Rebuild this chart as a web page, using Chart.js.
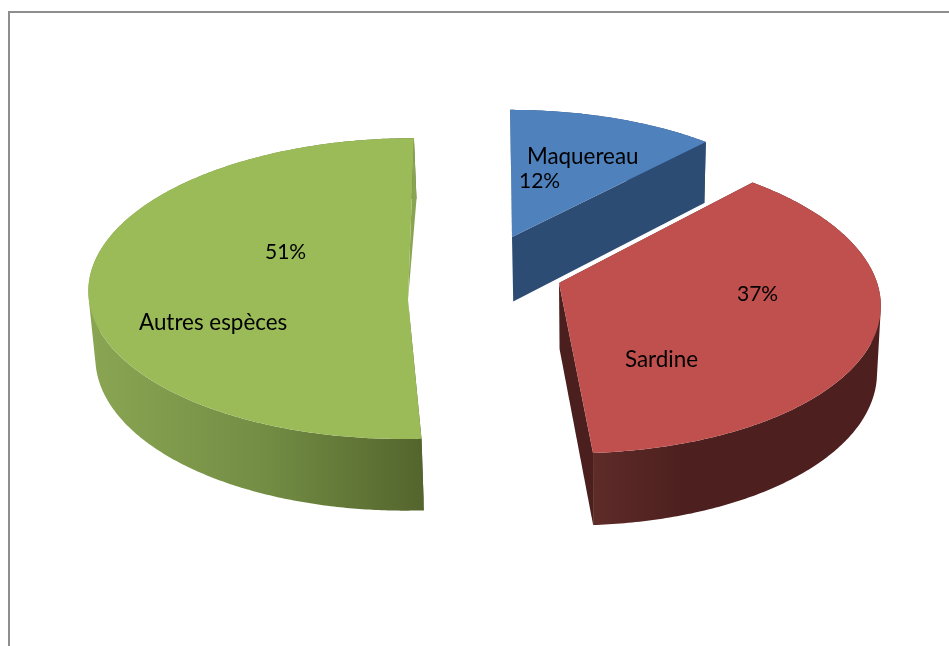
<!DOCTYPE html>
<html lang="fr">
<head>
<meta charset="utf-8">
<title>Espèces</title>
<script src="https://cdn.jsdelivr.net/npm/chart.js@4"></script>
<style>
  html, body { margin: 0; padding: 0; background: #fff; overflow: hidden; }
  #cadre {
    position: absolute; left: 8px; top: 11px; width: 941px; height: 635px;
    border-left: 2px solid #8e8e8e; border-top: 2px solid #8e8e8e; box-sizing: border-box;
  }
  #graphique { position: absolute; left: 0; top: 0; }
</style>
</head>
<body>
<div id="cadre"></div>
<canvas id="graphique" width="949" height="646"></canvas>
<script>
/* ===================== DONNÉES ===================== */
const especes = ["Maquereau", "Sardine", "Autres espèces"];
const pourcentages = [12, 37, 51];

/* ===================== STYLE ===================== */
const couleursDessus = ["#4f81bd", "#c0504d", "#9bbb59"];
const couleursCote = ["#2d4c73", "#4d201f", "#8aa552"];
const couleursDebut = ["#2d4c73", "#4d201f", "#54652d"];
const couleursFin = ["#2d4c73", "#4a1f1e", "#8aa552"];

// vue 3D de chaque part : sommet, échelle, perspective, inclinaison
const vues = [
  { cx: 512, cy: 237, sx: 0.947, sy: 0.433, p: -0.1, s: 2 },
  { cx: 559, cy: 283, sx: 0.985, sy: 0.464, p: -0.12, s: 10 },
  { cx: 408, cy: 300, sx: 0.988, sy: 0.463, p: 0.076, s: -5.5 },
];

// position des textes (nom puis pourcentage)
const positionsNoms = [[527, 164], [625, 367], [139, 330]];
const positionsPct = [[519, 188], [737, 301], [265, 259]];

/* ===================== PROJECTION ===================== */
function projeter(vue, rayon, angle) {
  const u = Math.cos(angle);
  const v = Math.sin(angle);
  const w = 1 + vue.p * v;
  return {
    x: vue.cx + (rayon * vue.sx * u + vue.s * v) / w,
    y: vue.cy + (rayon * vue.sy * v) / w,
  };
}

// face du bas : légère fuite vers le point de perspective
function enBas(pt) {
  return {
    x: pt.x + (600 - pt.x) * 0.0137,
    y: pt.y + 61 + (pt.y - 143) * 0.036,
  };
}

function tracer(ctx, points, couleur) {
  ctx.beginPath();
  points.forEach((pt, i) => (i ? ctx.lineTo(pt.x, pt.y) : ctx.moveTo(pt.x, pt.y)));
  ctx.closePath();
  ctx.fillStyle = couleur;
  ctx.fill();
}

// côté courbe : tous les morceaux dans un seul chemin, même sens, pas de joints visibles
function tracerCoteCourbe(ctx, bord, couleur) {
  ctx.beginPath();
  for (let k = 0; k < bord.length - 1; k++) {
    let quad = [bord[k], bord[k + 1], enBas(bord[k + 1]), enBas(bord[k])];
    let aire = 0;
    quad.forEach((pt, j) => {
      const suivant = quad[(j + 1) % 4];
      aire += pt.x * suivant.y - suivant.x * pt.y;
    });
    if (aire < 0) quad = quad.reverse();
    quad.forEach((pt, j) => (j ? ctx.lineTo(pt.x, pt.y) : ctx.moveTo(pt.x, pt.y)));
    ctx.closePath();
  }
  ctx.fillStyle = couleur;
  ctx.fill("nonzero");
}

function degradeCote(ctx, i) {
  if (i === 1) {
    const g = ctx.createLinearGradient(595, 0, 880, 0);
    g.addColorStop(0, "#5e2b28");
    g.addColorStop(0.3, "#4d201f");
    g.addColorStop(1, "#4d201f");
    return g;
  }
  if (i === 2) {
    const g = ctx.createLinearGradient(90, 0, 423, 0);
    g.addColorStop(0, "#8aa552");
    g.addColorStop(0.5, "#748f45");
    g.addColorStop(1, "#54652d");
    return g;
  }
  return couleursCote[i];
}

/* ===================== PLUGIN PART 3D ===================== */
const pieDe3D = {
  id: "pieDe3D",
  beforeDatasetDraw(chart) {
    const ctx = chart.ctx;
    chart.getDatasetMeta(0).data.forEach((arc, i) => {
      const vue = vues[i];
      const rayon = arc.outerRadius;
      const nb = Math.ceil((arc.endAngle - arc.startAngle) * 90);
      const bord = [];
      for (let k = 0; k <= nb; k++) {
        const a = arc.startAngle + ((arc.endAngle - arc.startAngle) * k) / nb;
        bord.push(projeter(vue, rayon, a));
      }
      const sommet = { x: vue.cx, y: vue.cy };
      const premier = bord[0];
      const dernier = bord[bord.length - 1];

      tracerCoteCourbe(ctx, bord, degradeCote(ctx, i));

      // côtés droits (la grande part ne montre qu'un mince triangle)
      tracer(ctx, [premier, enBas(premier), sommet], couleursDebut[i]);
      if (i === 2) {
        tracer(ctx, [sommet, dernier, enBas(dernier)], couleursFin[i]);
      } else {
        tracer(ctx, [sommet, dernier, enBas(dernier), enBas(sommet)], couleursFin[i]);
      }

      // dessus de la part
      tracer(ctx, [sommet].concat(bord), couleursDessus[i]);
    });
    return false;
  },
  afterDatasetsDraw(chart) {
    const ctx = chart.ctx;
    ctx.save();
    ctx.fillStyle = "#000";
    ctx.textBaseline = "alphabetic";
    especes.forEach((nom, i) => {
      ctx.font = '22.4px Lato, "Open Sans", sans-serif';
      ctx.fillText(nom, positionsNoms[i][0], positionsNoms[i][1]);
      ctx.font = '21px Lato, "Open Sans", sans-serif';
      ctx.fillText(`${pourcentages[i]}%`, positionsPct[i][0], positionsPct[i][1]);
    });
    ctx.restore();
  },
};

/* ===================== GRAPHIQUE ===================== */
new Chart(document.getElementById("graphique"), {
  type: "pie",
  data: {
    labels: especes,
    datasets: [
      {
        data: pourcentages,
        backgroundColor: couleursDessus,
        borderWidth: 0,
      },
    ],
  },
  plugins: [pieDe3D],
  options: {
    responsive: false,
    animation: false,
    plugins: {
      legend: { display: false },
      tooltip: { enabled: false },
    },
  },
});
</script>
</body>
</html>
